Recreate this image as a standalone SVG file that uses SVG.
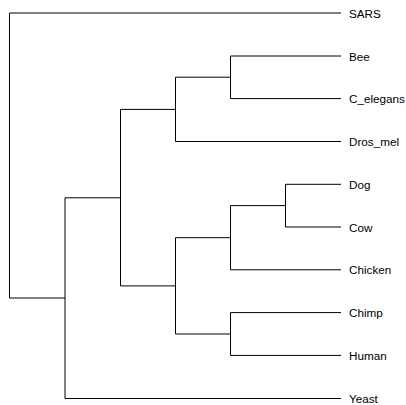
<svg xmlns="http://www.w3.org/2000/svg" width="406" height="405" viewBox="0 0 406 405">
  <style>
    .edge { fill: none; stroke: #000; stroke-width: 1; }
    .tip { font-family: "Liberation Sans", Arial, sans-serif; font-size: 11.7px; fill: #000; }
  </style>
  <rect width="406" height="405" fill="#fff"/>
  <!-- dendrogram branches (elbow style) -->
  <g id="connectors">
    <!-- root: SARS vs. rest -->
    <path class="edge" d="M341 13 H9.5 V298 H65"/>
    <!-- rest: Yeast vs. eukaryote clade -->
    <path class="edge" d="M341 398.5 H65 V197.8 H120.5"/>
    <!-- invertebrates vs. vertebrates -->
    <path class="edge" d="M175.5 109.4 H120.5 V285.9 H175.5"/>
    <!-- invertebrates -->
    <path class="edge" d="M230.5 77.2 H175.5 V141.5 H341"/>
    <path class="edge" d="M341 56 H230.5 V98.6 H341"/>
    <!-- vertebrates -->
    <path class="edge" d="M230.5 237.7 H175.5 V334 H230.5"/>
    <path class="edge" d="M285.5 205.6 H230.5 V269.8 H341"/>
    <path class="edge" d="M341 184.3 H285.5 V227 H341"/>
    <path class="edge" d="M341 312.6 H230.5 V355.4 H341"/>
  </g>
  <!-- leaf labels (baseline a little below each branch tip) -->
  <g id="SARS"><text class="tip" x="349" y="17.5">SARS</text></g>
  <g id="Bee"><text class="tip" x="349" y="60.5">Bee</text></g>
  <g id="C_elegans"><text class="tip" x="349" y="103.1">C_elegans</text></g>
  <g id="Dros_mel"><text class="tip" x="349" y="146">Dros_mel</text></g>
  <g id="Dog"><text class="tip" x="349" y="188.8">Dog</text></g>
  <g id="Cow"><text class="tip" x="349" y="231.5">Cow</text></g>
  <g id="Chicken"><text class="tip" x="349" y="274.3">Chicken</text></g>
  <g id="Chimp"><text class="tip" x="349" y="317.1">Chimp</text></g>
  <g id="Human"><text class="tip" x="349" y="359.9">Human</text></g>
  <g id="Yeast"><text class="tip" x="349" y="403">Yeast</text></g>
</svg>
